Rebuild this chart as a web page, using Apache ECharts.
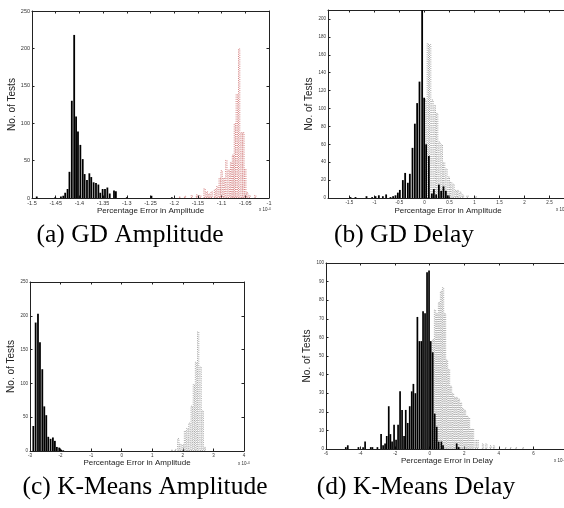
<!DOCTYPE html>
<html>
<head>
<meta charset="utf-8">
<script src="https://cdn.jsdelivr.net/npm/echarts@6/dist/echarts.min.js"></script>
<style>
html,body{margin:0;padding:0;background:#fff;overflow:hidden;width:564px;height:508px;}
#chart{width:620px;height:508px;}
</style>
</head>
<body>
<div id="chart"></div>
<script>
// ---------- (a) GD Amplitude ----------
const gdAmpBlackX = [-1.490,-1.451,-1.439,-1.434,-1.430,-1.425,-1.421,-1.416,-1.411,-1.407,-1.403,-1.398,-1.393,-1.389,-1.384,-1.379,-1.375,-1.370,-1.365,-1.360,-1.356,-1.351,-1.346,-1.341,-1.336,-1.327,-1.323,-1.300,-1.248,-1.205];
const gdAmpBlackY = [2,1,2,3,7,12,35,130,218,109,89,71,52,32,24,33,28,21,20,18,7,12,12,14,6,10,9,1,3,1];
const gdAmpRedX = [-1.188,-1.177,-1.163,-1.152,-1.145,-1.136,-1.131,-1.126,-1.121,-1.114,-1.109,-1.104,-1.100,-1.095,-1.090,-1.085,-1.080,-1.076,-1.072,-1.068,-1.063,-1.058,-1.054,-1.050,-1.046,-1.041,-1.029];
const gdAmpRedY = [2,3,4,5,4,13,9,6,9,12,16,27,37,27,51,38,48,58,100,139,200,88,88,39,8,4,4];
const gdAmpXTicks = [-1.5,-1.45,-1.4,-1.35,-1.3,-1.25,-1.2,-1.15,-1.1,-1.05,-1];
const gdAmpYTicks = [0,50,100,150,200,250];

// ---------- (b) GD Delay ----------
const gdDelBlackX = [-1.48,-1.38,-1.16,-1.047,-0.98,-0.913,-0.833,-0.767,-0.68,-0.627,-0.58,-0.533,-0.493,-0.433,-0.387,-0.333,-0.293,-0.24,-0.193,-0.147,-0.1,-0.047,-0.007,0.033,0.087,0.147,0.187,0.233,0.287,0.333,0.38,0.427,0.467];
const gdDelBlackY = [1,1,2,1,2,3,2,4,1,2,3,6,9,20,28,17,27,56,83,106,130,260,112,60,47,5,10,4,15,8,13,8,3];
const gdDelGreyX = [0.02,0.067,0.113,0.16,0.207,0.253,0.30,0.347,0.393,0.44,0.487,0.533,0.58,0.627,0.673,0.72,0.77,0.86,1.03];
const gdDelGreyY = [110,173,172,110,104,95,63,60,40,33,24,18,16,9,9,7,4,3,2];
const gdDelXTicks = [-1.5,-1,-0.5,0,0.5,1,1.5,2,2.5];
const gdDelYTicks = [0,20,40,60,80,100,120,140,160,180,200];

// ---------- (c) K-Means Amplitude ----------
const kmAmpBlackX = [-2.891,-2.815,-2.739,-2.674,-2.598,-2.533,-2.468,-2.403,-2.327,-2.251,-2.186,-2.121,-2.045,-1.98,-1.914];
const kmAmpBlackY = [37,190,203,161,121,66,53,21,18,20,15,6,5,2,1];
const kmAmpGreyX = [1.65,1.76,1.85,1.92,2.0,2.07,2.145,2.215,2.29,2.36,2.43,2.5,2.58,2.65,2.72];
const kmAmpGreyY = [2,3,19,11,10,30,34,42,67,99,132,177,125,60,6];
const kmAmpXTicks = [-3,-2,-1,0,1,2,3,4];
const kmAmpYTicks = [0,50,100,150,200,250];

// ---------- (d) K-Means Delay ----------
const kmDelBlackX = [-4.855,-4.74,-4.123,-3.854,-3.738,-3.41,-3.314,-3.025,-2.813,-2.697,-2.582,-2.486,-2.37,-2.274,-2.177,-2.062,-1.946,-1.83,-1.715,-1.599,-1.484,-1.387,-1.272,-1.156,-1.04,-0.944,-0.828,-0.713,-0.597,-0.482,-0.385,-0.27,-0.154,-0.039,0.058,0.173,0.289,0.405,0.52,0.674,0.771,1.561,1.676];
const kmDelBlackY = [1,2,1,1,4,1,1,1,8,2,3,7,23,8,4,13,5,13,31,21,7,21,14,23,31,35,30,71,58,58,74,73,95,96,58,52,19,12,4,4,2,3,1];
const kmDelGreyX = [0.193,0.308,0.424,0.539,0.655,0.771,0.886,1.002,1.117,1.233,1.349,1.464,1.58,1.696,1.811,1.927,2.042,2.158,2.273,2.389,2.505,2.659,2.775,3.083,3.276,3.526,3.72,4.393,4.682,5.0,5.4];
const kmDelGreyY = [59,75,73,79,85,87,73,48,43,34,30,28,28,27,25,22,21,18,17,11,11,5,5,3,3,2,2,1,1,1,1];
const kmDelXTicks = [-6,-4,-2,0,2,4,6,8];
const kmDelYTicks = [0,10,20,30,40,50,60,70,80,90,100];

const captions = ['(a) GD Amplitude','(b) GD Delay','(c) K-Means Amplitude','(d) K-Means Delay'];
const xTitles = ['Percentage Error in Amplitude','Percentage Error in Amplitude','Percentage Error in Amplitude','Percentage Error in Delay'];
const yTitle = 'No. of Tests';

const panels = [
  {grid:{left:32,top:11,width:237,height:187}, xmin:-1.5, xmax:-1, xt:gdAmpXTicks, ymax:250, yt:gdAmpYTicks,
   bx:gdAmpBlackX, by:gdAmpBlackY, gx:gdAmpRedX, gy:gdAmpRedY, gcol:'#cf7070', lf:5.5, bw:1.8, xg:9, yg:13},
  {grid:{left:328,top:10,width:240,height:188}, xmin:-1.93, xmax:2.87, xt:gdDelXTicks, ymax:210, yt:gdDelYTicks,
   bx:gdDelBlackX, by:gdDelBlackY, gx:gdDelGreyX, gy:gdDelGreyY, gcol:'#9a9a9a', lf:4.5, bw:1.8, xg:9, yg:12},
  {grid:{left:30,top:282,width:214,height:169}, xmin:-3, xmax:4, xt:kmAmpXTicks, ymax:250, yt:kmAmpYTicks,
   bx:kmAmpBlackX, by:kmAmpBlackY, gx:kmAmpGreyX, gy:kmAmpGreyY, gcol:'#9a9a9a', lf:4.5, bw:1.8, xg:6.5, yg:12},
  {grid:{left:326,top:263,width:242,height:186}, xmin:-6, xmax:8, xt:kmDelXTicks, ymax:100, yt:kmDelYTicks,
   bx:kmDelBlackX, by:kmDelBlackY, gx:kmDelGreyX, gy:kmDelGreyY, gcol:'#9a9a9a', lf:4.5, bw:1.7, xg:6.5, yg:10}
];

const FONT = 'Liberation Sans';
const lineStyle = {color:'#222', width:1};
const grids = [], xAxes = [], yAxes = [], series = [];
panels.forEach((p, g) => {
  grids.push(Object.assign({containLabel:false}, p.grid));
  const fmt = v => String(Math.round(v*100)/100);
  xAxes.push({
    type:'value', gridIndex:g, position:'bottom', min:p.xmin, max:p.xmax,
    name:xTitles[g], nameLocation:'middle', nameGap:p.xg,
    nameTextStyle:{fontFamily:FONT, fontSize:8, color:'#222'},
    axisLine:{show:true, onZero:false, lineStyle}, splitLine:{show:false},
    axisTick:{show:true, inside:true, length:2.5, customValues:p.xt, lineStyle},
    axisLabel:{show:true, customValues:p.xt, formatter:fmt, fontFamily:FONT, fontSize:p.lf, color:'#333', margin:2}
  });
  xAxes.push({
    type:'value', gridIndex:g, position:'top', min:p.xmin, max:p.xmax,
    axisLine:{show:true, onZero:false, lineStyle}, splitLine:{show:false},
    axisTick:{show:true, inside:true, length:2.5, customValues:p.xt, lineStyle},
    axisLabel:{show:false}
  });
  yAxes.push({
    type:'value', gridIndex:g, position:'left', min:0, max:p.ymax,
    name:yTitle, nameLocation:'middle', nameGap:p.yg,
    nameTextStyle:{fontFamily:FONT, fontSize:10, color:'#222'},
    axisLine:{show:true, onZero:false, lineStyle}, splitLine:{show:false},
    axisTick:{show:true, inside:true, length:2.5, customValues:p.yt, lineStyle},
    axisLabel:{show:true, customValues:p.yt, fontFamily:FONT, fontSize:p.lf, color:'#333', margin:2}
  });
  yAxes.push({
    type:'value', gridIndex:g, position:'right', min:0, max:p.ymax,
    axisLine:{show:true, onZero:false, lineStyle}, splitLine:{show:false},
    axisTick:{show:true, inside:true, length:2.5, customValues:p.yt, lineStyle},
    axisLabel:{show:false}
  });
  series.push({
    type:'bar', xAxisIndex:2*g+1, yAxisIndex:2*g, clip:true, barWidth:2.2,
    data:p.gx.map((x,i)=>[x,p.gy[i]]),
    itemStyle:{color:'rgba(255,255,255,0)', borderColor:p.gcol, borderWidth:0.9, borderType:[1,1.2]},
    emphasis:{disabled:true}, z:2
  });
  series.push({
    type:'bar', xAxisIndex:2*g, yAxisIndex:2*g, clip:true, barWidth:p.bw,
    data:p.bx.map((x,i)=>[x,p.by[i]]),
    itemStyle:{color:'#000'},
    emphasis:{disabled:true}, z:3
  });
});

const expLabel = (x, y, e) => ({
  type:'text', left:x, top:y,
  style:{text:'{a|x 10}{b|' + e + '}', rich:{a:{fontFamily:FONT,fontSize:4.5,fill:'#333'}, b:{fontFamily:FONT,fontSize:3.5,fill:'#333',verticalAlign:'top'}}}
});
const capLabel = (x, y, t) => ({
  type:'text', x:x, y:y,
  style:{text:t, fontFamily:'Liberation Serif', fontSize:25.5, fill:'#000', textAlign:'center', textVerticalAlign:'middle'}
});

const chart = echarts.init(document.getElementById('chart'), null, {renderer:'canvas'});
chart.setOption({
  animation:false,
  backgroundColor:'#fff',
  grid:grids, xAxis:xAxes, yAxis:yAxes, series:series,
  graphic:[
    expLabel(259,207,'-4'), expLabel(556,207,'-3'), expLabel(238,461,'-4'), expLabel(554,458,'-3'),
    capLabel(130,235,captions[0]), capLabel(404,235,captions[1]),
    capLabel(145,487,captions[2]), capLabel(416,487,captions[3])
  ]
});
</script>
</body>
</html>
